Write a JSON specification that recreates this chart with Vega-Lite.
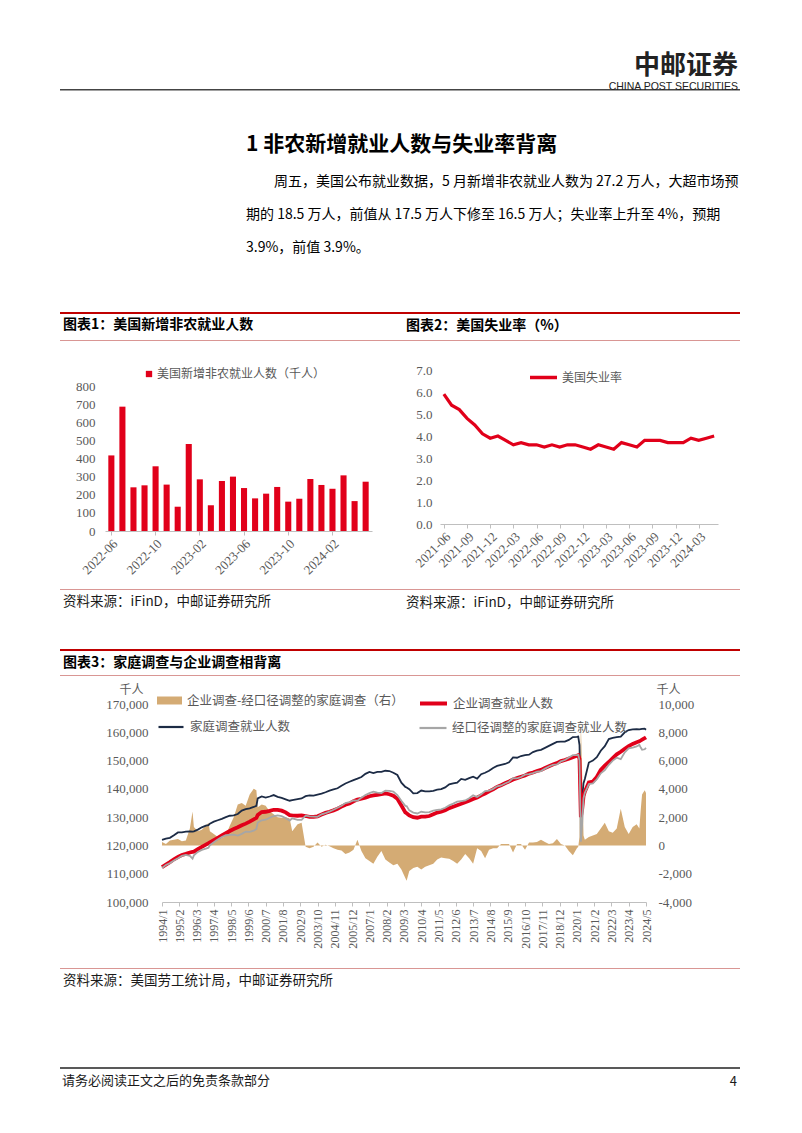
{
"$schema": "https://vega.github.io/schema/vega-lite/v6.json",
"background": "#ffffff",
"padding": {"left": 60, "top": 0, "right": 0, "bottom": 0},
"spacing": 0,
"bounds": "flush",
"config": {
  "view": {"stroke": null},
  "font": "Noto Sans CJK SC",
  "concat": {"spacing": 0},
  "title": {"font": "Noto Sans CJK SC", "anchor": "start", "offset": 0, "color": "#000000", "fontWeight": "bold", "fontSize": 14, "frame": "group"},
  "axis": {"labelFont": "Liberation Serif", "labelFontSize": 13, "labelColor": "#595959", "domainColor": "#bfbfbf", "tickColor": "#bfbfbf", "grid": false, "titleFont": "Noto Sans CJK SC"},
  "legend": {"labelFont": "Noto Sans CJK SC", "labelFontSize": 12, "labelColor": "#595959", "labelLimit": 400, "padding": 0}
},
"vconcat": [
  {"width": 680, "height": 83, "data": {"values": []}, "mark": "text"},
  {"width": 680, "height": 1, "data": {"values": []}, "mark": "text", "title": {"text": "中邮证券", "anchor": "end", "fontSize": 26, "color": "#222222", "dx": -2}},
  {"width": 680, "height": 5, "data": {"values": []}, "mark": "text"},
  {"width": 680, "height": 1.5, "data": {"values": []}, "mark": "text", "view": {"fill": "#444444"}},
  {"width": 680, "height": 5, "data": {"values": []}, "mark": "text"},
  {"width": 680, "height": 1, "data": {"values": []}, "mark": "text", "title": {"text": "CHINA POST SECURITIES", "anchor": "end", "font": "Liberation Sans", "fontWeight": "normal", "fontSize": 10.5, "color": "#222222", "dx": -2}},
  {"width": 680, "height": 61.5, "data": {"values": []}, "mark": "text"},
  {"width": 680, "height": 34, "data": {"values": []}, "mark": "text", "title": {"text": "1 非农新增就业人数与失业率背离", "fontSize": 21, "dx": 186}},
  {"width": 680, "height": 33, "data": {"values": []}, "mark": "text", "title": {"text": "周五，美国公布就业数据，5 月新增非农就业人数为 27.2 万人，大超市场预", "fontSize": 14, "fontWeight": "normal", "dx": 214}},
  {"width": 680, "height": 33, "data": {"values": []}, "mark": "text", "title": {"text": "期的 18.5 万人，前值从 17.5 万人下修至 16.5 万人；失业率上升至 4%，预期", "fontSize": 14, "fontWeight": "normal", "dx": 186}},
  {"width": 680, "height": 53, "data": {"values": []}, "mark": "text", "title": {"text": "3.9%，前值 3.9%。", "fontSize": 14, "fontWeight": "normal", "dx": 186}},
  {"width": 680, "height": 2, "data": {"values": []}, "mark": "text", "view": {"fill": "#c00000"}},
  {"width": 680, "height": 22, "data": {"values": []}, "mark": "text"},
  {"width": 680, "height": 1, "data": {"values": []}, "mark": "text", "title": {"text": "图表1：美国新增非农就业人数", "dx": 3}},
  {"width": 680, "height": 3, "data": {"values": []}, "mark": "text", "title": {"text": "图表2：美国失业率（%）", "dx": 346}},
  {"width": 680, "height": 1, "data": {"values": []}, "mark": "text", "view": {"fill": "#d99694"}},
  {"width": 680, "height": 29, "data": {"values": []}, "mark": "text"},
  {"width": 680, "height": 161,
   "layer": [
     {"data": {"values": [
         {"m":"2022-06","v":417},{"m":"2022-07","v":686},{"m":"2022-08","v":241},{"m":"2022-09","v":252},{"m":"2022-10","v":357},{"m":"2022-11","v":256},{"m":"2022-12","v":134},{"m":"2023-01","v":480},{"m":"2023-02","v":285},{"m":"2023-03","v":142},{"m":"2023-04","v":276},{"m":"2023-05","v":300},{"m":"2023-06","v":237},{"m":"2023-07","v":180},{"m":"2023-08","v":206},{"m":"2023-09","v":243},{"m":"2023-10","v":162},{"m":"2023-11","v":178},{"m":"2023-12","v":287},{"m":"2024-01","v":254},{"m":"2024-02","v":233},{"m":"2024-03","v":307},{"m":"2024-04","v":165},{"m":"2024-05","v":272}
       ]},
      "mark": {"type": "bar"},
      "encoding": {
        "x": {"field": "m", "type": "ordinal", "sort": null, "scale": {"range": [45, 312], "paddingInner": 0.45, "paddingOuter": 0.3},
              "axis": {"orient": "bottom", "values": ["2022-06","2022-10","2023-02","2023-06","2023-10","2024-02"], "labelAngle": -45, "labelOverlap": false, "tickSize": 4, "labelPadding": 2, "title": null}},
        "y": {"field": "v", "type": "quantitative", "scale": {"domain": [0, 800], "nice": false, "range": [161, 16]},
              "axis": {"orient": "left", "offset": -45, "values": [0,100,200,300,400,500,600,700,800], "domain": false, "ticks": false, "labelPadding": 10, "title": null}},
        "color": {"datum": "美国新增非农就业人数（千人）", "scale": {"range": ["#e1001a"]},
                  "legend": {"orient": "none", "legendX": 83, "legendY": -2, "symbolType": "square", "symbolSize": 40, "labelOffset": 2, "title": null}}
      }},
     {"data": {"values": [
         {"m":"2021-06","v":5.9},{"m":"2021-07","v":5.4},{"m":"2021-08","v":5.2},{"m":"2021-09","v":4.8},{"m":"2021-10","v":4.5},{"m":"2021-11","v":4.1},{"m":"2021-12","v":3.9},{"m":"2022-01","v":4.0},{"m":"2022-02","v":3.8},{"m":"2022-03","v":3.6},{"m":"2022-04","v":3.7},{"m":"2022-05","v":3.6},{"m":"2022-06","v":3.6},{"m":"2022-07","v":3.5},{"m":"2022-08","v":3.6},{"m":"2022-09","v":3.5},{"m":"2022-10","v":3.6},{"m":"2022-11","v":3.6},{"m":"2022-12","v":3.5},{"m":"2023-01","v":3.4},{"m":"2023-02","v":3.6},{"m":"2023-03","v":3.5},{"m":"2023-04","v":3.4},{"m":"2023-05","v":3.7},{"m":"2023-06","v":3.6},{"m":"2023-07","v":3.5},{"m":"2023-08","v":3.8},{"m":"2023-09","v":3.8},{"m":"2023-10","v":3.8},{"m":"2023-11","v":3.7},{"m":"2023-12","v":3.7},{"m":"2024-01","v":3.7},{"m":"2024-02","v":3.9},{"m":"2024-03","v":3.8},{"m":"2024-04","v":3.9},{"m":"2024-05","v":4.0}
       ]},
      "mark": {"type": "line", "strokeWidth": 3.2},
      "encoding": {
        "x": {"field": "m", "type": "ordinal", "sort": null, "scale": {"type": "point", "padding": 0.5, "range": [380, 658]},
              "axis": {"orient": "bottom", "offset": -7, "values": ["2021-06","2021-09","2021-12","2022-03","2022-06","2022-09","2022-12","2023-03","2023-06","2023-09","2023-12","2024-03"], "labelAngle": -45, "labelOverlap": false, "tickSize": 4, "labelPadding": 2, "title": null}},
        "y": {"field": "v", "type": "quantitative", "scale": {"domain": [0, 7], "nice": false, "range": [154, 0]},
              "axis": {"orient": "left", "offset": -380, "values": [0,1,2,3,4,5,6,7], "format": ".1f", "domain": false, "ticks": false, "labelPadding": 8, "title": null}},
        "color": {"datum": "美国失业率", "scale": {"range": ["#e1001a"]},
                  "legend": {"orient": "none", "legendX": 468, "legendY": -8, "symbolType": "stroke", "symbolSize": 729, "symbolStrokeWidth": 3.5, "labelOffset": 3, "title": null}}
      }}
   ],
   "resolve": {"scale": {"x": "independent", "y": "independent", "color": "independent"}, "axis": {"x": "independent", "y": "independent"}}},
  {"width": 680, "height": 58, "data": {"values": []}, "mark": "text"},
  {"width": 680, "height": 1, "data": {"values": []}, "mark": "text", "view": {"fill": "#d99694"}},
  {"width": 680, "height": 22, "data": {"values": []}, "mark": "text"},
  {"width": 680, "height": 1, "data": {"values": []}, "mark": "text", "title": {"text": "资料来源：iFinD，中邮证券研究所", "fontWeight": "normal", "fontSize": 13.5, "color": "#1a1a1a", "dx": 3}},
  {"width": 680, "height": 36, "data": {"values": []}, "mark": "text", "title": {"text": "资料来源：iFinD，中邮证券研究所", "fontWeight": "normal", "fontSize": 13.5, "color": "#1a1a1a", "dx": 346}},
  {"width": 680, "height": 2, "data": {"values": []}, "mark": "text", "view": {"fill": "#c00000"}},
  {"width": 680, "height": 23, "data": {"values": []}, "mark": "text"},
  {"width": 680, "height": 1, "data": {"values": []}, "mark": "text", "title": {"text": "图表3：家庭调查与企业调查相背离", "dx": 3}},
  {"width": 680, "height": 1, "data": {"values": []}, "mark": "text", "view": {"fill": "#d99694"}},
  {"width": 680, "height": 28, "data": {"values": []}, "mark": "text"},
  {"width": 680, "height": 198,
   "data": {"values": [
{"d":"1994-01","e":112300,"h":121950,"a":112050,"df":250},
{"d":"1994-04","e":113200,"h":122400,"a":113100,"df":100},
{"d":"1994-07","e":114100,"h":122700,"a":113750,"df":350},
{"d":"1994-10","e":115100,"h":123600,"a":114700,"df":400},
{"d":"1995-01","e":115900,"h":124600,"a":115450,"df":450},
{"d":"1995-04","e":116600,"h":124600,"a":116300,"df":300},
{"d":"1995-07","e":117000,"h":124900,"a":116650,"df":350},
{"d":"1995-10","e":117500,"h":125000,"a":116300,"df":1200},
{"d":"1995-12","e":117700,"h":124900,"a":115300,"df":2400},
{"d":"1996-01","e":117800,"h":125000,"a":116500,"df":1300},
{"d":"1996-04","e":118700,"h":125600,"a":117700,"df":1000},
{"d":"1996-07","e":119500,"h":126400,"a":118400,"df":1100},
{"d":"1996-10","e":120300,"h":127000,"a":118900,"df":1400},
{"d":"1996-12","e":120800,"h":127200,"a":119200,"df":1600},
{"d":"1997-01","e":121100,"h":127700,"a":120100,"df":1000},
{"d":"1997-04","e":121900,"h":128400,"a":121100,"df":800},
{"d":"1997-07","e":122700,"h":128900,"a":122100,"df":600},
{"d":"1997-10","e":123500,"h":129400,"a":123000,"df":500},
{"d":"1998-01","e":124300,"h":130000,"a":123600,"df":700},
{"d":"1998-04","e":125100,"h":130500,"a":123700,"df":1400},
{"d":"1998-07","e":125800,"h":130600,"a":123800,"df":2000},
{"d":"1998-10","e":126400,"h":131100,"a":123500,"df":2900},
{"d":"1999-01","e":127100,"h":132300,"a":124100,"df":3000},
{"d":"1999-04","e":127700,"h":132800,"a":124900,"df":2800},
{"d":"1999-07","e":128400,"h":133100,"a":124800,"df":3600},
{"d":"1999-10","e":129200,"h":133600,"a":125200,"df":4000},
{"d":"1999-12","e":129700,"h":134000,"a":125800,"df":3900},
{"d":"2000-01","e":130800,"h":136600,"a":128100,"df":2700},
{"d":"2000-04","e":131800,"h":137300,"a":128900,"df":2900},
{"d":"2000-07","e":131900,"h":136900,"a":129100,"df":2800},
{"d":"2000-10","e":132200,"h":137300,"a":129800,"df":2400},
{"d":"2001-01","e":132600,"h":137800,"a":130400,"df":2200},
{"d":"2001-04","e":132600,"h":137200,"a":130600,"df":2000},
{"d":"2001-07","e":132300,"h":136800,"a":130350,"df":1950},
{"d":"2001-10","e":131700,"h":136300,"a":129700,"df":2000},
{"d":"2002-01","e":130700,"h":135800,"a":128800,"df":1900},
{"d":"2002-03","e":130600,"h":136000,"a":129600,"df":1000},
{"d":"2002-07","e":130500,"h":136400,"a":129000,"df":1500},
{"d":"2002-10","e":130600,"h":136600,"a":129000,"df":1600},
{"d":"2003-01","e":130400,"h":137400,"a":130500,"df":-100},
{"d":"2003-04","e":130100,"h":137700,"a":130300,"df":-200},
{"d":"2003-07","e":130100,"h":137600,"a":130200,"df":-100},
{"d":"2003-10","e":130300,"h":138000,"a":130100,"df":200},
{"d":"2004-01","e":130900,"h":138300,"a":131000,"df":-100},
{"d":"2004-04","e":131500,"h":138800,"a":131450,"df":50},
{"d":"2004-07","e":131900,"h":139400,"a":131950,"df":-50},
{"d":"2004-10","e":132400,"h":139800,"a":132600,"df":-200},
{"d":"2005-01","e":133000,"h":140200,"a":133300,"df":-300},
{"d":"2005-04","e":133700,"h":141100,"a":134050,"df":-350},
{"d":"2005-07","e":134400,"h":141900,"a":135000,"df":-600},
{"d":"2005-10","e":134800,"h":142500,"a":135300,"df":-500},
{"d":"2006-01","e":135600,"h":143100,"a":135900,"df":-300},
{"d":"2006-04","e":136200,"h":143600,"a":135800,"df":400},
{"d":"2006-07","e":136500,"h":144200,"a":136900,"df":-400},
{"d":"2006-10","e":136900,"h":145300,"a":137800,"df":-900},
{"d":"2007-01","e":137400,"h":146000,"a":138500,"df":-1100},
{"d":"2007-04","e":137700,"h":145600,"a":139000,"df":-1300},
{"d":"2007-07","e":137900,"h":146000,"a":138700,"df":-800},
{"d":"2007-10","e":138100,"h":146000,"a":138500,"df":-400},
{"d":"2008-01","e":138400,"h":146400,"a":139400,"df":-1000},
{"d":"2008-04","e":138100,"h":146300,"a":139300,"df":-1200},
{"d":"2008-07","e":137600,"h":145700,"a":139000,"df":-1400},
{"d":"2008-10","e":136500,"h":144900,"a":137800,"df":-1300},
{"d":"2009-01","e":134100,"h":142200,"a":135800,"df":-1700},
{"d":"2009-04","e":131700,"h":140700,"a":134000,"df":-2300},
{"d":"2009-05","e":131400,"h":140500,"a":133900,"df":-2500},
{"d":"2009-07","e":130600,"h":139900,"a":132400,"df":-1800},
{"d":"2009-10","e":130000,"h":138400,"a":131600,"df":-1600},
{"d":"2010-01","e":129800,"h":138500,"a":131300,"df":-1500},
{"d":"2010-04","e":130200,"h":139400,"a":131900,"df":-1700},
{"d":"2010-07","e":130200,"h":139100,"a":131700,"df":-1500},
{"d":"2010-10","e":130400,"h":139100,"a":131800,"df":-1400},
{"d":"2011-01","e":131000,"h":139300,"a":132300,"df":-1300},
{"d":"2011-04","e":131600,"h":139700,"a":132600,"df":-1000},
{"d":"2011-07","e":131900,"h":139900,"a":132750,"df":-850},
{"d":"2011-10","e":132400,"h":140500,"a":133300,"df":-900},
{"d":"2012-01","e":133200,"h":141600,"a":134150,"df":-950},
{"d":"2012-04","e":133700,"h":141900,"a":134800,"df":-1100},
{"d":"2012-07","e":134200,"h":142200,"a":135500,"df":-1300},
{"d":"2012-10","e":134700,"h":143500,"a":135700,"df":-1000},
{"d":"2013-01","e":135300,"h":143200,"a":135900,"df":-600},
{"d":"2013-04","e":135800,"h":143800,"a":136700,"df":-900},
{"d":"2013-07","e":136400,"h":144300,"a":137700,"df":-1300},
{"d":"2013-10","e":136900,"h":143600,"a":137100,"df":-200},
{"d":"2014-01","e":137700,"h":145200,"a":138100,"df":-400},
{"d":"2014-04","e":138300,"h":145700,"a":139200,"df":-900},
{"d":"2014-07","e":139100,"h":146400,"a":139400,"df":-300},
{"d":"2014-10","e":139800,"h":147400,"a":140000,"df":-200},
{"d":"2015-01","e":140700,"h":148100,"a":140900,"df":-200},
{"d":"2015-04","e":141300,"h":148500,"a":141200,"df":100},
{"d":"2015-07","e":142000,"h":148800,"a":141900,"df":100},
{"d":"2015-10","e":142600,"h":149400,"a":142500,"df":100},
{"d":"2016-01","e":143300,"h":151100,"a":143800,"df":-500},
{"d":"2016-04","e":143800,"h":151000,"a":143700,"df":100},
{"d":"2016-07","e":144300,"h":151600,"a":144200,"df":100},
{"d":"2016-10","e":144700,"h":151900,"a":145000,"df":-300},
{"d":"2017-01","e":145400,"h":152100,"a":145200,"df":200},
{"d":"2017-04","e":145800,"h":153000,"a":145600,"df":200},
{"d":"2017-07","e":146300,"h":153500,"a":146050,"df":250},
{"d":"2017-10","e":146700,"h":153800,"a":146300,"df":400},
{"d":"2018-01","e":147400,"h":154500,"a":147150,"df":250},
{"d":"2018-04","e":148000,"h":155200,"a":147900,"df":100},
{"d":"2018-07","e":148600,"h":155900,"a":148450,"df":150},
{"d":"2018-10","e":149100,"h":156600,"a":148650,"df":450},
{"d":"2019-01","e":149800,"h":156700,"a":149700,"df":100},
{"d":"2019-04","e":150200,"h":156700,"a":150200,"df":0},
{"d":"2019-07","e":150700,"h":157300,"a":151100,"df":-400},
{"d":"2019-10","e":151200,"h":158300,"a":151900,"df":-700},
{"d":"2020-01","e":151700,"h":158400,"a":151900,"df":-200},
{"d":"2020-02","e":151900,"h":158500,"a":152000,"df":-100},
{"d":"2020-03","e":150600,"h":155500,"a":150000,"df":600},
{"d":"2020-04","e":130000,"h":133000,"a":121300,"df":8700},
{"d":"2020-05","e":132800,"h":137000,"a":127800,"df":5000},
{"d":"2020-06","e":137400,"h":142000,"a":136700,"df":700},
{"d":"2020-07","e":139000,"h":143500,"a":138600,"df":400},
{"d":"2020-10","e":142300,"h":149300,"a":141700,"df":600},
{"d":"2021-01","e":142600,"h":150000,"a":141900,"df":700},
{"d":"2021-04","e":144200,"h":151200,"a":143400,"df":800},
{"d":"2021-07","e":146700,"h":153500,"a":145500,"df":1200},
{"d":"2021-10","e":148200,"h":155100,"a":146600,"df":1600},
{"d":"2022-01","e":149500,"h":157600,"a":148500,"df":1000},
{"d":"2022-04","e":150900,"h":158000,"a":150000,"df":900},
{"d":"2022-07","e":152200,"h":158300,"a":151000,"df":1200},
{"d":"2022-10","e":153100,"h":158500,"a":150500,"df":2600},
{"d":"2023-01","e":154200,"h":160000,"a":152900,"df":1300},
{"d":"2023-04","e":155100,"h":160800,"a":154300,"df":800},
{"d":"2023-07","e":155900,"h":161000,"a":154600,"df":1300},
{"d":"2023-10","e":156500,"h":161100,"a":155000,"df":1500},
{"d":"2023-12","e":156800,"h":161000,"a":155600,"df":1200},
{"d":"2024-01","e":157100,"h":161100,"a":154600,"df":2500},
{"d":"2024-02","e":157400,"h":161200,"a":153800,"df":3600},
{"d":"2024-04","e":157900,"h":161300,"a":154000,"df":3900},
{"d":"2024-05","e":158200,"h":160900,"a":154500,"df":3700}
   ]},
   "layer": [
     {"mark": {"type": "area", "interpolate": "linear"},
      "encoding": {
        "x": {"field": "d", "type": "temporal", "scale": {"type": "utc", "range": [102, 586], "domain": [{"year": 1994, "month": 1, "date": 1, "utc": true}, {"year": 2024, "month": 5, "date": 1, "utc": true}]},
              "axis": {"values": [{"year":1994,"month":1,"utc":true},{"year":1995,"month":2,"utc":true},{"year":1996,"month":3,"utc":true},{"year":1997,"month":4,"utc":true},{"year":1998,"month":5,"utc":true},{"year":1999,"month":6,"utc":true},{"year":2000,"month":7,"utc":true},{"year":2001,"month":8,"utc":true},{"year":2002,"month":9,"utc":true},{"year":2003,"month":10,"utc":true},{"year":2004,"month":11,"utc":true},{"year":2005,"month":12,"utc":true},{"year":2007,"month":1,"utc":true},{"year":2008,"month":2,"utc":true},{"year":2009,"month":3,"utc":true},{"year":2010,"month":4,"utc":true},{"year":2011,"month":5,"utc":true},{"year":2012,"month":6,"utc":true},{"year":2013,"month":7,"utc":true},{"year":2014,"month":8,"utc":true},{"year":2015,"month":9,"utc":true},{"year":2016,"month":10,"utc":true},{"year":2017,"month":11,"utc":true},{"year":2018,"month":12,"utc":true},{"year":2020,"month":1,"utc":true},{"year":2021,"month":2,"utc":true},{"year":2022,"month":3,"utc":true},{"year":2023,"month":4,"utc":true},{"year":2024,"month":5,"utc":true}],
                       "labelExpr": "utcFormat(datum.value, '%Y/%-m')", "labelAngle": -90, "labelFontSize": 12, "labelOverlap": false, "tickSize": 4, "labelPadding": 3, "title": null}},
        "y": {"field": "df", "type": "quantitative", "scale": {"domain": [-4000, 10000], "nice": false},
              "axis": {"orient": "right", "offset": -94, "values": [-4000,-2000,0,2000,4000,6000,8000,10000], "format": ",.0f", "labelExpr": "replace(datum.label, '\u2212', '-')", "labelOverlap": false, "domain": false, "ticks": false, "labelPadding": 12,
                       "title": "千人", "titleAngle": 0, "titleX": 22, "titleY": -15, "titleAlign": "center", "titleBaseline": "middle", "titleFontWeight": "normal", "titleFontSize": 12, "titleColor": "#595959"}},
        "color": {"datum": "企业调查-经口径调整的家庭调查（右）", "scale": {"range": ["#d4ab74"]},
                  "legend": {"orient": "none", "legendX": 97, "legendY": -16, "symbolType": "M-1,-0.32H1V0.32H-1Z", "symbolSize": 625, "symbolStrokeWidth": 0, "labelOffset": 5, "labelFontSize": 12.5, "title": null}}
      }},
     {"layer": [
       {"mark": {"type": "line", "strokeWidth": 1.8},
        "encoding": {
          "x": {"field": "d", "type": "temporal", "scale": {"type": "utc", "range": [102, 586], "domain": [{"year": 1994, "month": 1, "date": 1, "utc": true}, {"year": 2024, "month": 5, "date": 1, "utc": true}]},
                "axis": {"values": [{"year":1994,"month":1,"utc":true},{"year":1995,"month":2,"utc":true},{"year":1996,"month":3,"utc":true},{"year":1997,"month":4,"utc":true},{"year":1998,"month":5,"utc":true},{"year":1999,"month":6,"utc":true},{"year":2000,"month":7,"utc":true},{"year":2001,"month":8,"utc":true},{"year":2002,"month":9,"utc":true},{"year":2003,"month":10,"utc":true},{"year":2004,"month":11,"utc":true},{"year":2005,"month":12,"utc":true},{"year":2007,"month":1,"utc":true},{"year":2008,"month":2,"utc":true},{"year":2009,"month":3,"utc":true},{"year":2010,"month":4,"utc":true},{"year":2011,"month":5,"utc":true},{"year":2012,"month":6,"utc":true},{"year":2013,"month":7,"utc":true},{"year":2014,"month":8,"utc":true},{"year":2015,"month":9,"utc":true},{"year":2016,"month":10,"utc":true},{"year":2017,"month":11,"utc":true},{"year":2018,"month":12,"utc":true},{"year":2020,"month":1,"utc":true},{"year":2021,"month":2,"utc":true},{"year":2022,"month":3,"utc":true},{"year":2023,"month":4,"utc":true},{"year":2024,"month":5,"utc":true}],
                         "labelExpr": "utcFormat(datum.value, '%Y/%-m')", "labelAngle": -90, "labelFontSize": 12, "labelOverlap": false, "tickSize": 4, "labelPadding": 3, "title": null}},
          "y": {"field": "h", "type": "quantitative", "scale": {"domain": [100000, 170000], "nice": false},
                "axis": {"orient": "left", "offset": -102, "values": [100000,110000,120000,130000,140000,150000,160000,170000], "format": ",.0f", "labelOverlap": false, "domain": false, "ticks": false, "labelPadding": 14,
                         "title": "千人", "titleAngle": 0, "titleX": -31, "titleY": -15, "titleAlign": "center", "titleBaseline": "middle", "titleFontWeight": "normal", "titleFontSize": 12, "titleColor": "#595959"}},
          "color": {"datum": "家庭调查就业人数", "scale": {"range": ["#1c2b45"]},
                    "legend": {"orient": "none", "legendX": 97, "legendY": 9, "symbolType": "stroke", "symbolSize": 625, "symbolStrokeWidth": 2.2, "labelOffset": 5, "labelFontSize": 12.5, "title": null}}
        }},
       {"mark": {"type": "line", "strokeWidth": 3.8},
        "encoding": {
          "x": {"field": "d", "type": "temporal", "scale": {"type": "utc", "range": [102, 586], "domain": [{"year": 1994, "month": 1, "date": 1, "utc": true}, {"year": 2024, "month": 5, "date": 1, "utc": true}]},
                "axis": {"values": [{"year":1994,"month":1,"utc":true},{"year":1995,"month":2,"utc":true},{"year":1996,"month":3,"utc":true},{"year":1997,"month":4,"utc":true},{"year":1998,"month":5,"utc":true},{"year":1999,"month":6,"utc":true},{"year":2000,"month":7,"utc":true},{"year":2001,"month":8,"utc":true},{"year":2002,"month":9,"utc":true},{"year":2003,"month":10,"utc":true},{"year":2004,"month":11,"utc":true},{"year":2005,"month":12,"utc":true},{"year":2007,"month":1,"utc":true},{"year":2008,"month":2,"utc":true},{"year":2009,"month":3,"utc":true},{"year":2010,"month":4,"utc":true},{"year":2011,"month":5,"utc":true},{"year":2012,"month":6,"utc":true},{"year":2013,"month":7,"utc":true},{"year":2014,"month":8,"utc":true},{"year":2015,"month":9,"utc":true},{"year":2016,"month":10,"utc":true},{"year":2017,"month":11,"utc":true},{"year":2018,"month":12,"utc":true},{"year":2020,"month":1,"utc":true},{"year":2021,"month":2,"utc":true},{"year":2022,"month":3,"utc":true},{"year":2023,"month":4,"utc":true},{"year":2024,"month":5,"utc":true}],
                         "labelExpr": "utcFormat(datum.value, '%Y/%-m')", "labelAngle": -90, "labelFontSize": 12, "labelOverlap": false, "tickSize": 4, "labelPadding": 3, "title": null}},
          "y": {"field": "e", "type": "quantitative", "scale": {"domain": [100000, 170000], "nice": false},
                "axis": {"orient": "left", "offset": -102, "values": [100000,110000,120000,130000,140000,150000,160000,170000], "format": ",.0f", "labelOverlap": false, "domain": false, "ticks": false, "labelPadding": 14,
                         "title": "千人", "titleAngle": 0, "titleX": -31, "titleY": -15, "titleAlign": "center", "titleBaseline": "middle", "titleFontWeight": "normal", "titleFontSize": 12, "titleColor": "#595959"}},
          "color": {"datum": "企业调查就业人数", "scale": {"range": ["#e1001a"]},
                    "legend": {"orient": "none", "legendX": 358, "legendY": -16, "symbolType": "stroke", "symbolSize": 729, "symbolStrokeWidth": 4, "labelOffset": 4, "labelFontSize": 12.5, "title": null}}
        }},
       {"mark": {"type": "line", "strokeWidth": 1.8},
        "encoding": {
          "x": {"field": "d", "type": "temporal", "scale": {"type": "utc", "range": [102, 586], "domain": [{"year": 1994, "month": 1, "date": 1, "utc": true}, {"year": 2024, "month": 5, "date": 1, "utc": true}]},
                "axis": {"values": [{"year":1994,"month":1,"utc":true},{"year":1995,"month":2,"utc":true},{"year":1996,"month":3,"utc":true},{"year":1997,"month":4,"utc":true},{"year":1998,"month":5,"utc":true},{"year":1999,"month":6,"utc":true},{"year":2000,"month":7,"utc":true},{"year":2001,"month":8,"utc":true},{"year":2002,"month":9,"utc":true},{"year":2003,"month":10,"utc":true},{"year":2004,"month":11,"utc":true},{"year":2005,"month":12,"utc":true},{"year":2007,"month":1,"utc":true},{"year":2008,"month":2,"utc":true},{"year":2009,"month":3,"utc":true},{"year":2010,"month":4,"utc":true},{"year":2011,"month":5,"utc":true},{"year":2012,"month":6,"utc":true},{"year":2013,"month":7,"utc":true},{"year":2014,"month":8,"utc":true},{"year":2015,"month":9,"utc":true},{"year":2016,"month":10,"utc":true},{"year":2017,"month":11,"utc":true},{"year":2018,"month":12,"utc":true},{"year":2020,"month":1,"utc":true},{"year":2021,"month":2,"utc":true},{"year":2022,"month":3,"utc":true},{"year":2023,"month":4,"utc":true},{"year":2024,"month":5,"utc":true}],
                         "labelExpr": "utcFormat(datum.value, '%Y/%-m')", "labelAngle": -90, "labelFontSize": 12, "labelOverlap": false, "tickSize": 4, "labelPadding": 3, "title": null}},
          "y": {"field": "a", "type": "quantitative", "scale": {"domain": [100000, 170000], "nice": false},
                "axis": {"orient": "left", "offset": -102, "values": [100000,110000,120000,130000,140000,150000,160000,170000], "format": ",.0f", "labelOverlap": false, "domain": false, "ticks": false, "labelPadding": 14,
                         "title": "千人", "titleAngle": 0, "titleX": -31, "titleY": -15, "titleAlign": "center", "titleBaseline": "middle", "titleFontWeight": "normal", "titleFontSize": 12, "titleColor": "#595959"}},
          "color": {"datum": "经口径调整的家庭调查就业人数", "scale": {"range": ["#a6a6a6"]},
                    "legend": {"orient": "none", "legendX": 358, "legendY": 9, "symbolType": "stroke", "symbolSize": 729, "symbolStrokeWidth": 2.2, "labelOffset": 4, "labelFontSize": 12.5, "title": null}}
        }}
     ], "resolve": {"scale": {"color": "independent"}}}
   ],
   "resolve": {"scale": {"y": "independent", "color": "independent"}}},
  {"width": 680, "height": 66, "data": {"values": []}, "mark": "text"},
  {"width": 680, "height": 1, "data": {"values": []}, "mark": "text", "view": {"fill": "#d99694"}},
  {"width": 680, "height": 22, "data": {"values": []}, "mark": "text"},
  {"width": 680, "height": 76, "data": {"values": []}, "mark": "text", "title": {"text": "资料来源：美国劳工统计局，中邮证券研究所", "fontWeight": "normal", "fontSize": 13.5, "color": "#1a1a1a", "dx": 3}},
  {"width": 680, "height": 2, "data": {"values": []}, "mark": "text", "view": {"fill": "#595959"}},
  {"width": 680, "height": 23, "data": {"values": []}, "mark": "text"},
  {"width": 680, "height": 1, "data": {"values": []}, "mark": "text", "title": {"text": "请务必阅读正文之后的免责条款部分", "fontWeight": "normal", "fontSize": 13, "color": "#1a1a1a", "dx": 2}},
  {"width": 680, "height": 9, "data": {"values": []}, "mark": "text", "title": {"text": "4", "anchor": "end", "fontWeight": "normal", "fontSize": 13, "color": "#1a1a1a", "dx": -3}}
]
}
